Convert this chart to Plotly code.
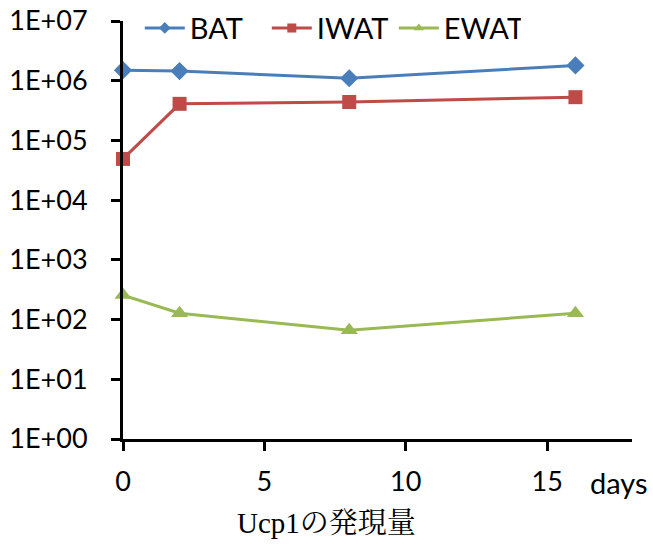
import plotly.graph_objects as go

days = [0, 2, 8, 16]
bat = [1.5e6, 1.45e6, 1.1e6, 1.8e6]
iwat = [4.9e4, 4.1e5, 4.4e5, 5.3e5]
ewat = [257, 128, 66, 128]
ytick_vals = [1, 10, 100, 1e3, 1e4, 1e5, 1e6, 1e7]
ytick_text = ["1E+00", "1E+01", "1E+02", "1E+03", "1E+04", "1E+05", "1E+06", "1E+07"]
xtick_vals = [0, 5, 10, 15]

font_main = "Lato, Open Sans, sans-serif"

series = [
    ("BAT", bat, "#4A7EBB", "diamond", 14),
    ("IWAT", iwat, "#BE4B48", "square", 14),
    ("EWAT", ewat, "#98B954", "triangle-up", 15),
]

fig = go.Figure()
for name, vals, color, sym, size in series:
    fig.add_trace(go.Scatter(x=days, y=vals, name=name, mode="lines+markers",
                             line=dict(color=color, width=3),
                             marker=dict(symbol=sym, size=size, color=color),
                             cliponaxis=False, showlegend=False))
for name, vals, color, sym, size in series:
    fig.add_trace(go.Scatter(x=[None], y=[None], name=name, mode="lines+markers",
                             line=dict(color=color, width=3),
                             marker=dict(symbol=sym, size=9, color=color),
                             showlegend=True))

fig.update_layout(
    width=653, height=544,
    margin=dict(l=123, r=21, t=21, b=105, autoexpand=False),
    paper_bgcolor="white", plot_bgcolor="white",
    font=dict(family=font_main, size=27, color="black"),
    showlegend=True,
    legend=dict(orientation="h", x=0.033, y=0.983, xanchor="left", yanchor="middle",
                font=dict(size=29), bgcolor="rgba(0,0,0,0)", itemwidth=40,
                entrywidth=72, entrywidthmode="pixels",
                tracegroupgap=0),
    xaxis=dict(range=[0, 18], tickvals=xtick_vals, showgrid=False, zeroline=False,
               showline=True, linecolor="black", linewidth=3,
               ticks="outside", ticklen=9, tickwidth=3, tickcolor="black",
               ticklabelstandoff=8, tickfont=dict(size=27)),
    yaxis=dict(type="log", range=[0, 7], tickvals=ytick_vals, ticktext=ytick_text,
               showgrid=False, zeroline=False,
               showline=True, linecolor="black", linewidth=3,
               ticks="outside", ticklen=9, tickwidth=3, tickcolor="black",
               ticklabelstandoff=18, tickfont=dict(size=27)),
    annotations=[
        dict(text="days", xref="paper", yref="paper", x=1.035, y=-0.105,
             xanchor="right", yanchor="middle", showarrow=False,
             font=dict(size=29, family=font_main)),
        dict(text="Ucp1の発現量", xref="paper", yref="paper", x=0.40, y=-0.2,
             xanchor="center", yanchor="middle", showarrow=False,
             font=dict(size=29, family="Liberation Serif, Noto Serif CJK JP, Noto Sans CJK JP, serif")),
    ],
)

fig.write_html("out.html")
